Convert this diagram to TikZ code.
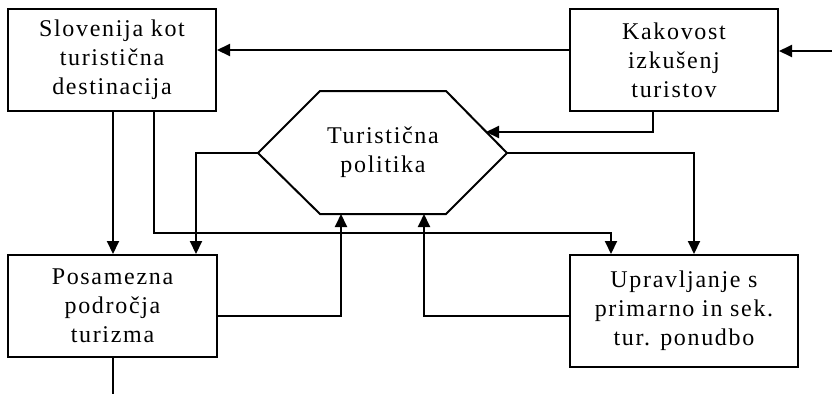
\documentclass[tikz,border=0pt]{standalone}
\usepackage{fontspec}
\setmainfont{Liberation Serif}[LetterSpace=7]
\usetikzlibrary{arrows.meta}
\begin{document}
\begin{tikzpicture}[x=1pt,y=-1pt,
  line width=2pt,
  font=\fontsize{24}{29}\selectfont,
  box/.style={draw, rectangle, align=center, inner sep=0pt},
  arr/.style={-{Triangle[length=13pt,width=12pt]}}]
\useasboundingbox (0,0) rectangle (832,394);

% boxes
\node[box, minimum width=208pt, minimum height=102pt] (slo) at (112,60)
  {Slovenija kot\\turistična\\destinacija};
\node[box, minimum width=208pt, minimum height=102pt] (kak) at (674,60)
  {Kakovost\\izkušenj\\turistov};
\node[box, minimum width=209pt, minimum height=102pt] (pos) at (112.5,306)
  {Posamezna\\področja\\turizma};
\node[box, minimum width=228pt, minimum height=112pt] (upr) at (684,311)
  {Upravljanje s\\primarno in sek.\\tur. ponudbo};

% hexagon: tourism policy
\coordinate (hL) at (258,153);
\coordinate (hTL) at (320,91);
\coordinate (hTR) at (446,91);
\coordinate (hR) at (507,153);
\coordinate (hBR) at (446,214);
\coordinate (hBL) at (320,214);
\draw (hL) -- (hTL) -- (hTR) -- (hR) -- (hBR) -- (hBL) -- cycle;
\node[align=center] (pol) at (383,152) {Turistična\\politika};

% attachment points on the hexagon
\coordinate (hIn) at (486,132);
\coordinate (hB1) at (341,214);
\coordinate (hB2) at (424,214);
\coordinate (src) at (832,51);
\coordinate (out) at (113,394);

% connectors
\draw[arr] (src) -- (kak.east |- src);
\draw[arr] (kak.west |- 0,50) -- (slo.east |- 0,50);
\draw[arr] (kak.south -| 653,0) |- (hIn);
\draw[arr] (hR) -| (upr.north -| 694,0);
\draw[arr] (hL) -| (pos.north -| 196,0);
\draw[arr] (slo.south -| 113,0) -- (pos.north -| 113,0);
\draw[arr] (slo.south -| 154,0) -- (154,233) -| (upr.north -| 611,0);
\draw[arr] (pos.east |- 0,316) -| (hB1);
\draw[arr] (upr.west |- 0,316) -| (hB2);
\draw (pos.south -| out) -- (out);
\end{tikzpicture}
\end{document}
